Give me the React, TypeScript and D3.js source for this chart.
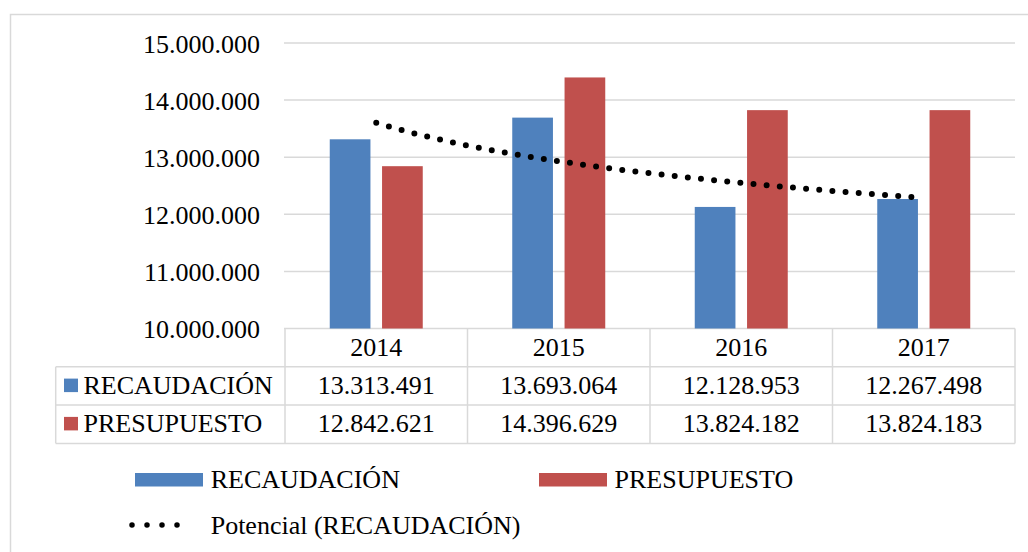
import React from "react";
import * as d3 from "d3";

const years = ["2014", "2015", "2016", "2017"];
const seriesNames = ["RECAUDACIÓN", "PRESUPUESTO"];
const recaudacion = [13313491, 13693064, 12128953, 12267498];
const presupuesto = [12842621, 14396629, 13824182, 13824183];
const yTicks = [10000000, 11000000, 12000000, 13000000, 14000000, 15000000];
const trendLabel = "Potencial (RECAUDACIÓN)";

const colors = ["#4F81BD", "#C0504D"];
const grid = "#D9D9D9";
const FONT = '"Liberation Serif", "Times New Roman", "DejaVu Serif", serif';

const locale = d3.formatLocale({ decimal: ",", thousands: ".", grouping: [3], currency: ["", ""] });
const fmt = locale.format(",d");

export default function App() {
  const W = 1028, H = 552;
  const plotL = 285, plotR = 1015, plotT = 43, plotB = 328.5;
  const tableL = 55.7;
  const rowH = 38.3;

  const x0 = d3.scaleBand<string>().domain(years).range([plotL, plotR]).paddingInner(0).paddingOuter(0);
  const groupW = 93;
  const x1 = d3.scaleBand<string>().domain(seriesNames).range([0, groupW]).paddingInner(0.222).paddingOuter(0);
  const y = d3.scaleLinear().domain([10000000, 15000000]).range([plotB, plotT]);

  const values = [recaudacion, presupuesto];

  // power trendline (y = a * x^b), x = 1..n
  const lx = recaudacion.map((_, i) => Math.log(i + 1));
  const ly = recaudacion.map((v) => Math.log(v));
  const mx = d3.mean(lx)!, my = d3.mean(ly)!;
  const sxy = d3.sum(lx.map((v, i) => (v - mx) * (ly[i] - my)));
  const sxx = d3.sum(lx.map((v) => (v - mx) * (v - mx)));
  const b = sxy / sxx;
  const a = Math.exp(my - b * mx);
  const xIdx = d3.scaleLinear().domain([1, years.length]).range([
    x0(years[0])! + x0.bandwidth() / 2,
    x0(years[years.length - 1])! + x0.bandwidth() / 2,
  ]);
  const samples = d3.range(1, years.length + 0.0001, 0.05);
  const trendPath = d3.line<number>().x((t) => xIdx(t)).y((t) => y(a * Math.pow(t, b)))(samples)!;

  const headerTop = plotB;
  const rows = [headerTop, headerTop + rowH, headerTop + 2 * rowH, headerTop + 3 * rowH];
  const tStyle = { fontFamily: FONT, fontSize: "26px" };

  return (
    <svg width={W} height={H} style={{ position: "absolute", left: 0, top: 0, background: "#fff", fontFamily: FONT }}>
      <rect x={10.5} y={14.5} width={1200} height={700} fill="#fff" stroke={grid} strokeWidth={1.5} />

      {/* gridlines */}
      {yTicks.map((t) => (
        <line key={t} x1={plotL - 1} x2={plotR} y1={y(t)} y2={y(t)} stroke={grid} strokeWidth={1.5} />
      ))}
      {yTicks.map((t) => (
        <text key={"l" + t} x={260} y={y(t) + 9.5} textAnchor="end" style={tStyle} fill="#000">
          {fmt(t)}
        </text>
      ))}

      {/* bars */}
      {years.map((yr, i) => (
        <g key={yr} transform={`translate(${x0(yr)! + (x0.bandwidth() - groupW) / 2},0)`}>
          {seriesNames.map((s, k) => (
            <rect
              key={s}
              x={x1(s)!}
              y={y(values[k][i])}
              width={x1.bandwidth()}
              height={y(10000000) - y(values[k][i])}
              fill={colors[k]}
            />
          ))}
        </g>
      ))}

      {/* trendline */}
      <path d={trendPath} fill="none" stroke="#000" strokeWidth={6} strokeLinecap="round" strokeDasharray="0 13.2" />

      {/* data table */}
      <g stroke={grid} strokeWidth={1.5}>
        <line x1={tableL} x2={plotR} y1={rows[1]} y2={rows[1]} />
        <line x1={tableL} x2={plotR} y1={rows[2]} y2={rows[2]} />
        <line x1={tableL} x2={plotR} y1={rows[3]} y2={rows[3]} />
        <line x1={tableL} x2={tableL} y1={rows[1]} y2={rows[3]} />
        {[...years.map((yr) => x0(yr)!), plotR].map((xx, i) => (
          <line key={i} x1={xx} x2={xx} y1={rows[0]} y2={rows[3]} />
        ))}
      </g>
      {years.map((yr) => (
        <text key={yr} x={x0(yr)! + x0.bandwidth() / 2} y={rows[0] + 27.3} textAnchor="middle" style={tStyle}>
          {yr}
        </text>
      ))}
      {seriesNames.map((s, k) => (
        <g key={s}>
          <rect x={64} y={rows[k + 1] + 11.8} width={14} height={13.5} fill={colors[k]} />
          <text x={83.5} y={rows[k + 1] + 27} style={tStyle}>
            {s}
          </text>
          {years.map((yr, i) => (
            <text key={yr} x={x0(yr)! + x0.bandwidth() / 2} y={rows[k + 1] + 27} textAnchor="middle" style={tStyle}>
              {fmt(values[k][i])}
            </text>
          ))}
        </g>
      ))}

      {/* legend */}
      <rect x={135} y={473} width={68} height={13.5} fill={colors[0]} />
      <text x={210.7} y={487.7} style={tStyle}>{seriesNames[0]}</text>
      <rect x={539} y={473} width={68} height={13.5} fill={colors[1]} />
      <text x={614.5} y={487.7} style={tStyle}>{seriesNames[1]}</text>
      <line x1={132} x2={192} y1={525} y2={525} stroke="#000" strokeWidth={5.5} strokeLinecap="round" strokeDasharray="0 15" />
      <text x={210.7} y={533.5} style={tStyle}>{trendLabel}</text>
    </svg>
  );
}
